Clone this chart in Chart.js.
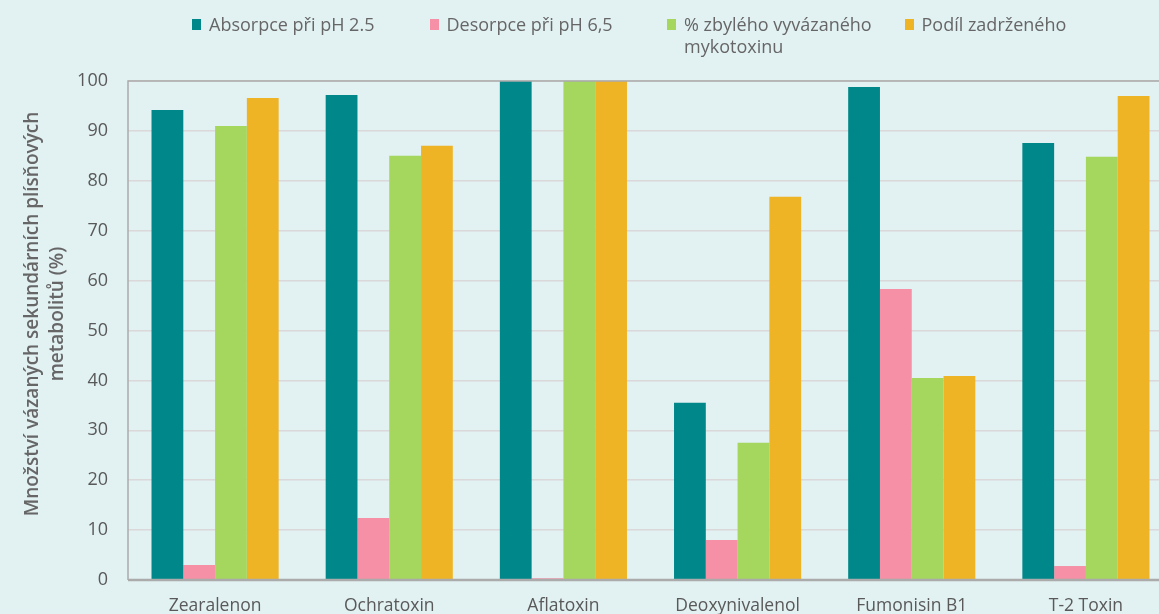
<!DOCTYPE html>
<html>
<head>
<meta charset="utf-8">
<script src="https://cdn.jsdelivr.net/npm/chart.js@4.4.1/dist/chart.umd.min.js"></script>
<style>
  html, body { margin:0; padding:0; background:#E2F1F2; overflow:hidden; width:1159px; height:614px; }
  #wrap { position:absolute; left:0; top:0; width:1174px; height:640px; }
  #legend { position:absolute; left:192px; top:13px; display:flex; font-family:"Open Sans", sans-serif; font-size:18px; color:#666; }
  .item { width:237.5px; display:flex; align-items:flex-start; line-height:22px; }
  .box { width:9px; height:11px; margin-top:6px; margin-right:8px; flex:none; }
  .txt { width:215px; }
</style>
</head>
<body>
<div id="wrap"><canvas id="c"></canvas></div>
<div id="legend"></div>
<script>
const categories = ["Zearalenon", "Ochratoxin", "Aflatoxin", "Deoxynivalenol", "Fumonisin B1", "T-2 Toxin"];
const seriesNames = ["Absorpce při pH 2.5", "Desorpce při pH 6,5", "% zbylého vyvázaného mykotoxinu", "Podíl zadrženého"];
const absorpce = [94.2, 97.2, 100, 35.5, 98.8, 87.6];
const desorpce = [3.0, 12.4, 0.35, 8.0, 58.3, 2.8];
const zbyleho = [91.0, 85.0, 100, 27.5, 40.5, 84.8];
const podil = [96.6, 87.0, 100, 76.8, 40.9, 97.0];
const yTicks = [0, 10, 20, 30, 40, 50, 60, 70, 80, 90, 100];
const yTitle = ["Množství vázaných sekundárních plísňových", "metabolitů (%)"];
const colors = ["#00878A", "#F590A6", "#A5D65E", "#EFB426"];

const values = [absorpce, desorpce, zbyleho, podil];

// HTML legend
const leg = document.getElementById('legend');
seriesNames.forEach((n, i) => {
  const it = document.createElement('div'); it.className = 'item';
  const b = document.createElement('div'); b.className = 'box'; b.style.background = colors[i];
  const t = document.createElement('div'); t.className = 'txt'; t.textContent = n;
  it.appendChild(b); it.appendChild(t); leg.appendChild(it);
});

const frame = {
  id: 'frame',
  afterDraw(chart) {
    const a = chart.chartArea, ctx = chart.ctx;
    ctx.save();
    ctx.strokeStyle = '#ABABAB';
    ctx.lineWidth = 1.5;
    ctx.beginPath();
    ctx.moveTo(a.left, a.bottom); ctx.lineTo(a.left, a.top); ctx.lineTo(a.right, a.top); ctx.lineTo(a.right, a.bottom);
    ctx.stroke();
    ctx.lineWidth = 2.5;
    ctx.beginPath(); ctx.moveTo(a.left, a.bottom); ctx.lineTo(a.right, a.bottom); ctx.stroke();
    // y-axis title
    ctx.translate(0, 0);
    ctx.fillStyle = '#666';
    ctx.font = '600 19px "Open Sans"';
    ctx.textAlign = 'center';
    ctx.textBaseline = 'middle';
    const cy = 314;
    const xs = [33, 58];
    yTitle.forEach((line, i) => {
      ctx.save();
      ctx.translate(xs[i], cy);
      ctx.rotate(-Math.PI / 2);
      ctx.fillText(line, 0, 0);
      ctx.restore();
    });
    ctx.restore();
  }
};

new Chart(document.getElementById('c'), {
  type: 'bar',
  data: {
    labels: categories,
    datasets: seriesNames.map((n, i) => ({
      label: n,
      data: values[i],
      backgroundColor: colors[i],
      borderWidth: 0,
      categoryPercentage: 0.73,
      barPercentage: 1.0
    }))
  },
  options: {
    responsive: true,
    maintainAspectRatio: false,
    animation: false,
    layout: { padding: { left: 0, right: 1, top: 81, bottom: 0 } },
    plugins: { legend: { display: false }, tooltip: { enabled: false } },
    scales: {
      x: {
        grid: { display: false, drawTicks: false },
        border: { display: false },
        ticks: { color: '#595959', font: { family: 'Open Sans', size: 17.5 }, padding: 16, maxRotation: 0, autoSkip: false },
        afterFit(s) { s.height = 60; }
      },
      y: {
        min: 0, max: 100,
        afterBuildTicks(s) { s.ticks = yTicks.map(v => ({ value: v })); },
        grid: { color: '#DAD8D9', lineWidth: 1.5, drawTicks: false },
        border: { display: false },
        ticks: { color: '#595959', font: { family: 'Open Sans', size: 18 }, padding: 20 },
        afterFit(s) { s.width = 128; }
      }
    }
  },
  plugins: [frame]
});
</script>
</body>
</html>
